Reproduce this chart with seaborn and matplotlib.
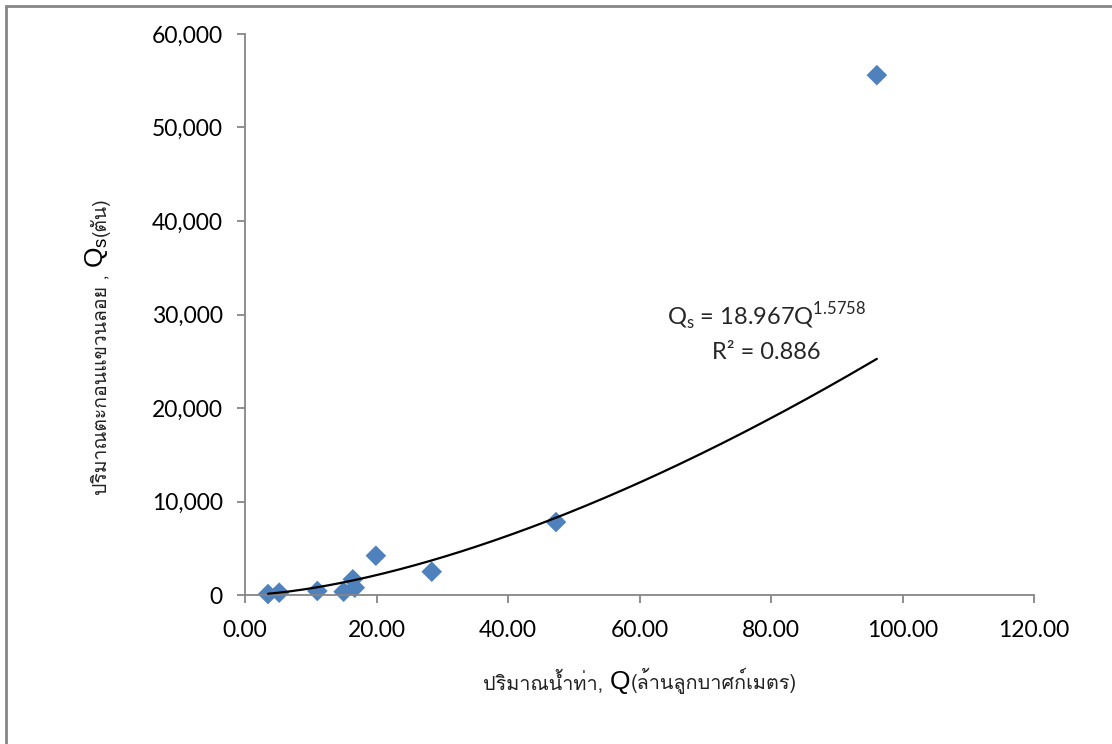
import numpy as np
import pandas as pd
import matplotlib
matplotlib.use("Agg")
import matplotlib.pyplot as plt
import seaborn as sns
from matplotlib import font_manager
from matplotlib.ft2font import FT2Font

# ---------------------------------------------------------
# DATA
# ---------------------------------------------------------
flow = [3.5, 5.2, 11.0, 15.0, 16.4, 16.7, 19.9, 28.4, 47.3, 96.1]
sediment = [100, 250, 430, 350, 1680, 780, 4200, 2490, 7800, 55600]
coef_a = 18.967
coef_b = 1.5758
r_squared = 0.886
x_ticks = [0, 20, 40, 60, 80, 100, 120]
y_ticks = [0, 10000, 20000, 30000, 40000, 50000, 60000]

xlabel_parts = ["ปริมาณน้ำท่า, ", "Q", "(ล้านลูกบาศก์เมตร)"]
ylabel_parts = ["ปริมาณตะกอนแขวนลอย , ", r"$\mathregular{Q_s}$", "(ตัน)"]

df = pd.DataFrame({"flow": flow, "sediment": sediment})


def find_thai_font():
    for f in font_manager.fontManager.ttflist:
        try:
            if 0x0E1B in FT2Font(f.fname).get_charmap():
                return f.name
        except Exception:
            pass
    return None


sns.set_style("ticks")
thai = find_thai_font()
base = ["Lato", "DejaVu Sans"]
plt.rcParams["font.family"] = base + ([thai] if thai else [])
thai_fam = ([thai] if thai else []) + ["DejaVu Sans"]

W, H = 1112, 744
fig = plt.figure(figsize=(W / 100, H / 100), dpi=100)
ax = fig.add_axes([245 / W, 1 - 595 / H, (1034 - 245) / W, (595 - 34) / H])

# scatter + power trendline
sns.scatterplot(data=df, x="flow", y="sediment", marker="D", s=110,
                color="#4F81BD", edgecolor="none", ax=ax, zorder=2, clip_on=False)
xf = np.linspace(min(flow), max(flow), 200)
sns.lineplot(x=xf, y=coef_a * xf ** coef_b, color="black", lw=1.6, ax=ax, zorder=3)

ax.set_xlim(0, 120)
ax.set_ylim(0, 60000)
ax.set_xticks(x_ticks)
ax.set_yticks(y_ticks)
ax.set_xticklabels([f"{v:.2f}" for v in x_ticks])
ax.set_yticklabels([f"{v:,.0f}" for v in y_ticks])
ax.set_xlabel("")
ax.set_ylabel("")
for s in ["top", "right"]:
    ax.spines[s].set_visible(False)
for s in ["left", "bottom"]:
    ax.spines[s].set_color("#868686")
    ax.spines[s].set_linewidth(1.3)
ax.tick_params(axis="both", colors="#868686", length=6, width=1.3, labelsize=16.5,
               labelcolor="black")
ax.tick_params(axis="x", pad=12)
ax.tick_params(axis="y", pad=10)

# equation
fig.text(766 / W, 1 - 325 / H,
         rf"$\mathregular{{Q_s}}$ = {coef_a}Q$^{{\mathregular{{{coef_b}}}}}$",
         ha="center", va="baseline", fontsize=17)
fig.text(766 / W, 1 - 359 / H, f"R² = {r_squared}", ha="center", va="baseline", fontsize=17)

# x label built from pieces (Thai + big Q)
t1 = fig.text(483 / W, 1 - 690 / H, xlabel_parts[0], fontsize=14.3, family=thai_fam,
              va="baseline", color="#222222")
t2 = ax.annotate(xlabel_parts[1], xy=(1, 0), xycoords=t1, va="bottom", fontsize=19,
                 family=["Liberation Sans"], color="black")
ax.annotate(xlabel_parts[2], xy=(1, 0), xycoords=t2, va="bottom", fontsize=14.3,
            family=thai_fam, color="#222222")

# y label built from pieces, rotated
u1 = fig.text(110 / W, 1 - 495 / H, ylabel_parts[0], fontsize=14, family=thai_fam,
              rotation=90, ha="right", va="bottom", color="#222222")
u2 = ax.annotate(ylabel_parts[1], xy=(1, 1), xycoords=u1, rotation=90, ha="right",
                 va="bottom", fontsize=19, family=["Liberation Sans"], color="black")
ax.annotate(ylabel_parts[2], xy=(1, 1), xycoords=u2, rotation=90, ha="right",
            va="bottom", fontsize=14, family=thai_fam, color="#222222")

# chart-area border (left and top edges visible)
fig.add_artist(plt.Line2D([6 / W, 6 / W], [0, 1 - 6 / H], transform=fig.transFigure,
                          color="#868686", lw=2))
fig.add_artist(plt.Line2D([6 / W, 1], [1 - 6 / H, 1 - 6 / H], transform=fig.transFigure,
                          color="#868686", lw=2))

fig.savefig("out.png", dpi=100)
